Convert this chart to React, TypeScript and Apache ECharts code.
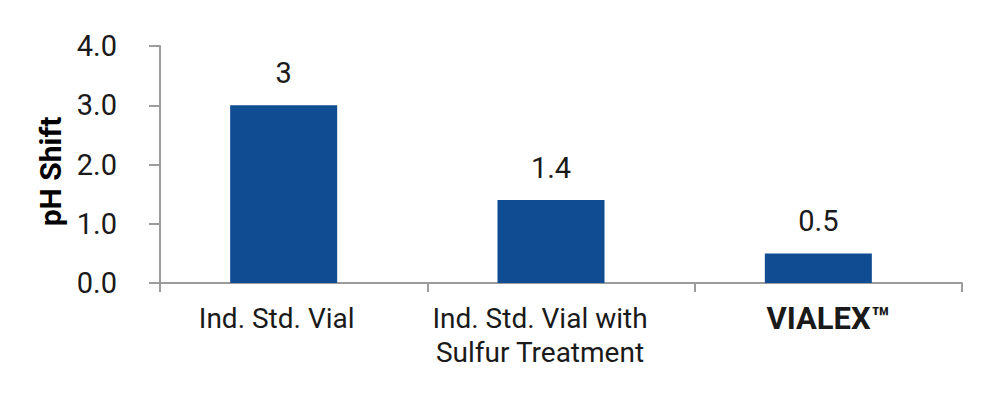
import React, { useEffect, useRef } from "react";
import * as echarts from "echarts";

const categories = ["Ind. Std. Vial", "Ind. Std. Vial with\nSulfur Treatment", "VIALEX™"];
const values = [3, 1.4, 0.5];
const valueLabels = ["3", "1.4", "0.5"];
const yTicks = [0, 1, 2, 3, 4];
const spacer = ["-", "-", "-"];

const FONT = "Roboto, 'DejaVu Sans', sans-serif";

export default function App() {
  const ref = useRef<HTMLDivElement>(null);
  useEffect(() => {
    if (!ref.current) return;
    const chart = echarts.init(ref.current, undefined, { renderer: "svg" });
    chart.setOption({
      animation: false,
      grid: { left: 152, right: 30, top: 38, bottom: 109 },
      xAxis: {
        type: "category",
        data: categories,
        axisLine: { lineStyle: { color: "#9c9c9c", width: 2 } },
        axisTick: { show: true, length: 9, lineStyle: { color: "#9c9c9c", width: 2 } },
        axisLabel: {
          color: "#1a1a1a",
          fontFamily: FONT,
          fontSize: 28,
          lineHeight: 34,
          margin: 18,
          interval: 0,
          formatter: (v: string, i: number) => {
            if (v === "VIALEX™") return "{b|" + v + "}";
            const tag = i === 0 ? "s1" : "s2";
            return v
              .split("\n")
              .map((l) => "{" + tag + "|" + l + "}")
              .join("\n");
          },
          rich: {
            b: { fontWeight: "bold", fontSize: 31, fontFamily: FONT, color: "#1a1a1a", lineHeight: 34 },
            s1: { fontSize: 28, fontFamily: FONT, color: "#1a1a1a", lineHeight: 34, padding: [0, 34, 0, 0] },
            s2: { fontSize: 28, fontFamily: FONT, color: "#1a1a1a", lineHeight: 34, padding: [0, 42, 0, 0] },
          },
        },
      },
      yAxis: {
        type: "value",
        min: yTicks[0],
        max: yTicks[yTicks.length - 1],
        interval: 1,
        name: "pH Shift",
        nameLocation: "middle",
        nameGap: 95,
        nameTextStyle: {
          fontFamily: FONT,
          fontSize: 30,
          fontWeight: "bold",
          color: "#000",
          padding: [0, 14, 0, 0],
        },
        splitLine: { show: false },
        axisLine: { show: true, lineStyle: { color: "#9c9c9c", width: 2 } },
        axisTick: { show: true, length: 11, lineStyle: { color: "#9c9c9c", width: 2 } },
        axisLabel: {
          color: "#1a1a1a",
          fontFamily: FONT,
          fontSize: 29,
          margin: 43,
          formatter: (v: number) => v.toFixed(1),
        },
      },
      series: [
        {
          type: "bar",
          data: values,
          barWidth: 107,
          itemStyle: { color: "#0f4c92" },
          label: {
            show: true,
            position: "top",
            distance: 18,
            color: "#1a1a1a",
            fontFamily: FONT,
            fontSize: 29,
            formatter: (p: any) => valueLabels[p.dataIndex],
          },
        },
        {
          type: "bar",
          data: spacer,
          barWidth: 20,
          barGap: "0%",
          silent: true,
          itemStyle: { color: "transparent" },
          label: { show: false },
        },
      ],
    });
    return () => chart.dispose();
  }, []);
  return <div ref={ref} style={{ width: 984, height: 384 }} />;
}
